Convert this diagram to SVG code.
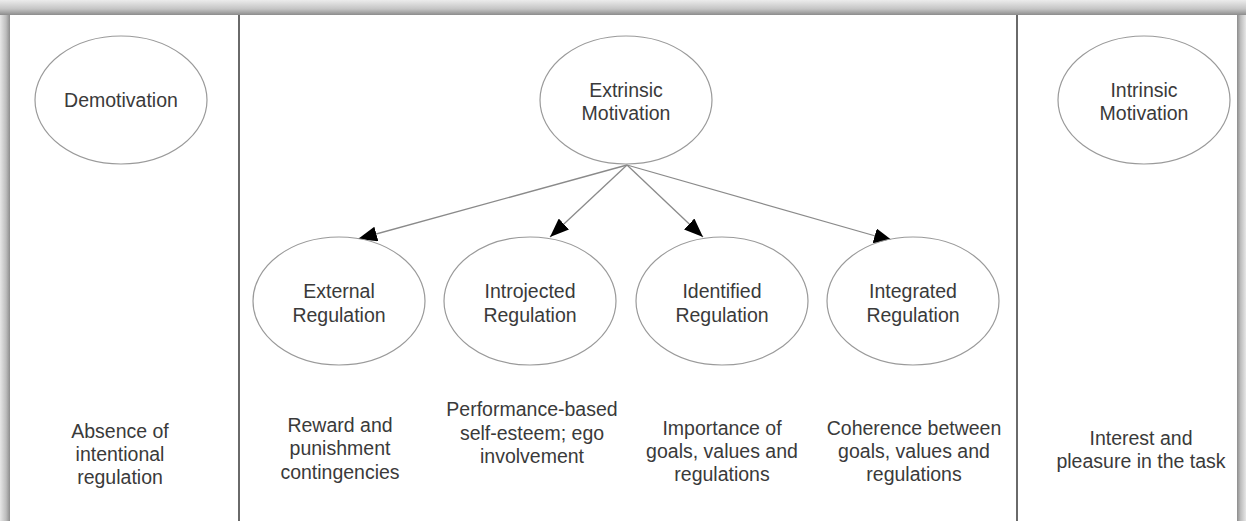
<svg xmlns="http://www.w3.org/2000/svg" width="1246" height="521" viewBox="0 0 1246 521">
  <defs>
    <linearGradient id="gTop" x1="0" y1="0" x2="0" y2="1">
      <stop offset="0" stop-color="#ececec"/>
      <stop offset="0.6" stop-color="#c4c4c4"/>
      <stop offset="1" stop-color="#8c8c8c"/>
    </linearGradient>
    <linearGradient id="gLeft" x1="0" y1="0" x2="1" y2="0">
      <stop offset="0" stop-color="#e6e6e6"/>
      <stop offset="0.6" stop-color="#bdbdbd"/>
      <stop offset="1" stop-color="#8c8c8c"/>
    </linearGradient>
    <linearGradient id="gRight" x1="0" y1="0" x2="1" y2="0">
      <stop offset="0" stop-color="#8c8c8c"/>
      <stop offset="0.4" stop-color="#bdbdbd"/>
      <stop offset="1" stop-color="#e6e6e6"/>
    </linearGradient>
    <marker id="arrow" markerUnits="userSpaceOnUse" markerWidth="19" markerHeight="15" refX="19" refY="7.5" orient="auto">
      <path d="M0,0 L19,7.5 L0,15 z" fill="#000"/>
    </marker>
    <style>
      .node ellipse { fill: #fff; stroke: #9a9a9a; stroke-width: 1.2; }
      text { font-family: "Liberation Sans", Arial, sans-serif; font-size: 19.5px; fill: #3a3a3a; text-anchor: middle; }
      .conn line { stroke: #8a8a8a; stroke-width: 1.3; marker-end: url(#arrow); }
      .divider { stroke: #6a6a6a; stroke-width: 2; }
    </style>
  </defs>

  <!-- frame / shadow -->
  <rect x="0" y="0" width="1246" height="521" fill="#fff"/>
  <rect x="0" y="0" width="1246" height="15" fill="url(#gTop)"/>
  <rect x="0" y="15" width="10" height="506" fill="url(#gLeft)"/>
  <rect x="1237" y="15" width="9" height="506" fill="url(#gRight)"/>

  <!-- dividers -->
  <line class="divider" x1="239" y1="15" x2="239" y2="521"/>
  <line class="divider" x1="1017" y1="15" x2="1017" y2="521"/>

  <!-- connectors -->
  <g id="connectors" class="conn">
    <line x1="627" y1="165" x2="358" y2="239"/>
    <line x1="627" y1="165" x2="550" y2="237"/>
    <line x1="627" y1="165" x2="703" y2="237"/>
    <line x1="627" y1="165" x2="893" y2="241"/>
  </g>

  <!-- top nodes -->
  <g id="demotivation" class="node">
    <ellipse cx="121" cy="100" rx="86" ry="64"/>
    <text x="121" y="107">Demotivation</text>
  </g>
  <g id="extrinsic" class="node">
    <ellipse cx="626" cy="100" rx="86" ry="64"/>
    <text x="626" y="97">Extrinsic</text>
    <text x="626" y="120">Motivation</text>
  </g>
  <g id="intrinsic" class="node">
    <ellipse cx="1144" cy="100" rx="86" ry="64"/>
    <text x="1144" y="97">Intrinsic</text>
    <text x="1144" y="120">Motivation</text>
  </g>

  <!-- regulation nodes -->
  <g id="external" class="node">
    <ellipse cx="339" cy="301" rx="86" ry="64"/>
    <text x="339" y="298">External</text>
    <text x="339" y="322">Regulation</text>
  </g>
  <g id="introjected" class="node">
    <ellipse cx="530" cy="301" rx="86" ry="64"/>
    <text x="530" y="298">Introjected</text>
    <text x="530" y="322">Regulation</text>
  </g>
  <g id="identified" class="node">
    <ellipse cx="722" cy="301" rx="86" ry="64"/>
    <text x="722" y="298">Identified</text>
    <text x="722" y="322">Regulation</text>
  </g>
  <g id="integrated" class="node">
    <ellipse cx="913" cy="301" rx="86" ry="64"/>
    <text x="913" y="298">Integrated</text>
    <text x="913" y="322">Regulation</text>
  </g>

  <!-- descriptions -->
  <g id="desc-demotivation">
    <text x="120" y="438">Absence of</text>
    <text x="120" y="461">intentional</text>
    <text x="120" y="484">regulation</text>
  </g>
  <g id="desc-external">
    <text x="340" y="432">Reward and</text>
    <text x="340" y="455">punishment</text>
    <text x="340" y="479">contingencies</text>
  </g>
  <g id="desc-introjected">
    <text x="532" y="416">Performance-based</text>
    <text x="532" y="440">self-esteem; ego</text>
    <text x="532" y="463">involvement</text>
  </g>
  <g id="desc-identified">
    <text x="722" y="435">Importance of</text>
    <text x="722" y="458">goals, values and</text>
    <text x="722" y="481">regulations</text>
  </g>
  <g id="desc-integrated">
    <text x="914" y="435">Coherence between</text>
    <text x="914" y="458">goals, values and</text>
    <text x="914" y="481">regulations</text>
  </g>
  <g id="desc-intrinsic">
    <text x="1141" y="445">Interest and</text>
    <text x="1141" y="468">pleasure in the task</text>
  </g>
</svg>
